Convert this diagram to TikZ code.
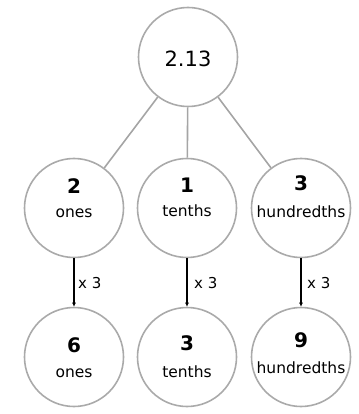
\documentclass[tikz,border=0pt]{standalone}
\usepackage{fontspec}
\setmainfont{DejaVu Sans}
\usetikzlibrary{arrows.meta}
\definecolor{ringgray}{RGB}{170,170,170}
\definecolor{linegray}{RGB}{165,165,165}
\tikzset{
  ring/.style={circle,draw=ringgray,line width=1.6pt,minimum size=99pt,inner sep=0pt},
  link/.style={draw=linegray,line width=1.6pt},
  times/.style={draw=black,line width=1.3pt,-{Latex[length=4pt,width=4pt]}},
  bignum/.style={font=\fontsize{21}{23}\selectfont,inner sep=0pt},
  num/.style={font=\fontsize{20}{22}\selectfont\bfseries,inner sep=0pt},
  unit/.style={font=\fontsize{15.5}{17}\selectfont,inner sep=0pt},
  mult/.style={font=\fontsize{15}{17}\selectfont,inner sep=0pt,anchor=west}
}
\begin{document}
\begin{tikzpicture}[x=1pt,y=-1pt]
\useasboundingbox (0,0) rectangle (358,414);
% circles
\node[ring] (top) at (188,57) {};
\node[ring] (m1) at (74,208) {};
\node[ring] (m2) at (187,208) {};
\node[ring] (m3) at (301,208) {};
\node[ring] (b1) at (74,357) {};
\node[ring] (b2) at (187,357) {};
\node[ring] (b3) at (301,357) {};
% connectors
\draw[link] (top) -- (m1);
\draw[link] (top) -- (m2);
\draw[link] (top) -- (m3);
\draw[times] (m1.south) -- (b1.north);
\draw[times] (m2.south) -- (b2.north);
\draw[times] (m3.south) -- (b3.north);
% texts
\node[bignum] (t0) at (188,59) {2.13};
\node[num] (n1) at (74,186) {2};
\node[unit] (u1) at (74,213) {ones};
\node[num] (n2) at (187,185) {1};
\node[unit] (u2) at (187,211) {tenths};
\node[num] (n3) at (301,183) {3};
\node[unit] (u3) at (301,212) {hundredths};
\node[num] (n4) at (74,345) {6};
\node[unit] (u4) at (74,373) {ones};
\node[num] (n5) at (187,343) {3};
\node[unit] (u5) at (187,372) {tenths};
\node[num] (n6) at (301,340) {9};
\node[unit] (u6) at (301,368) {hundredths};
\node[mult] (x1) at (78,283) {x 3};
\node[mult] (x2) at (194,283) {x 3};
\node[mult] (x3) at (307,283) {x 3};
\end{tikzpicture}
\end{document}
